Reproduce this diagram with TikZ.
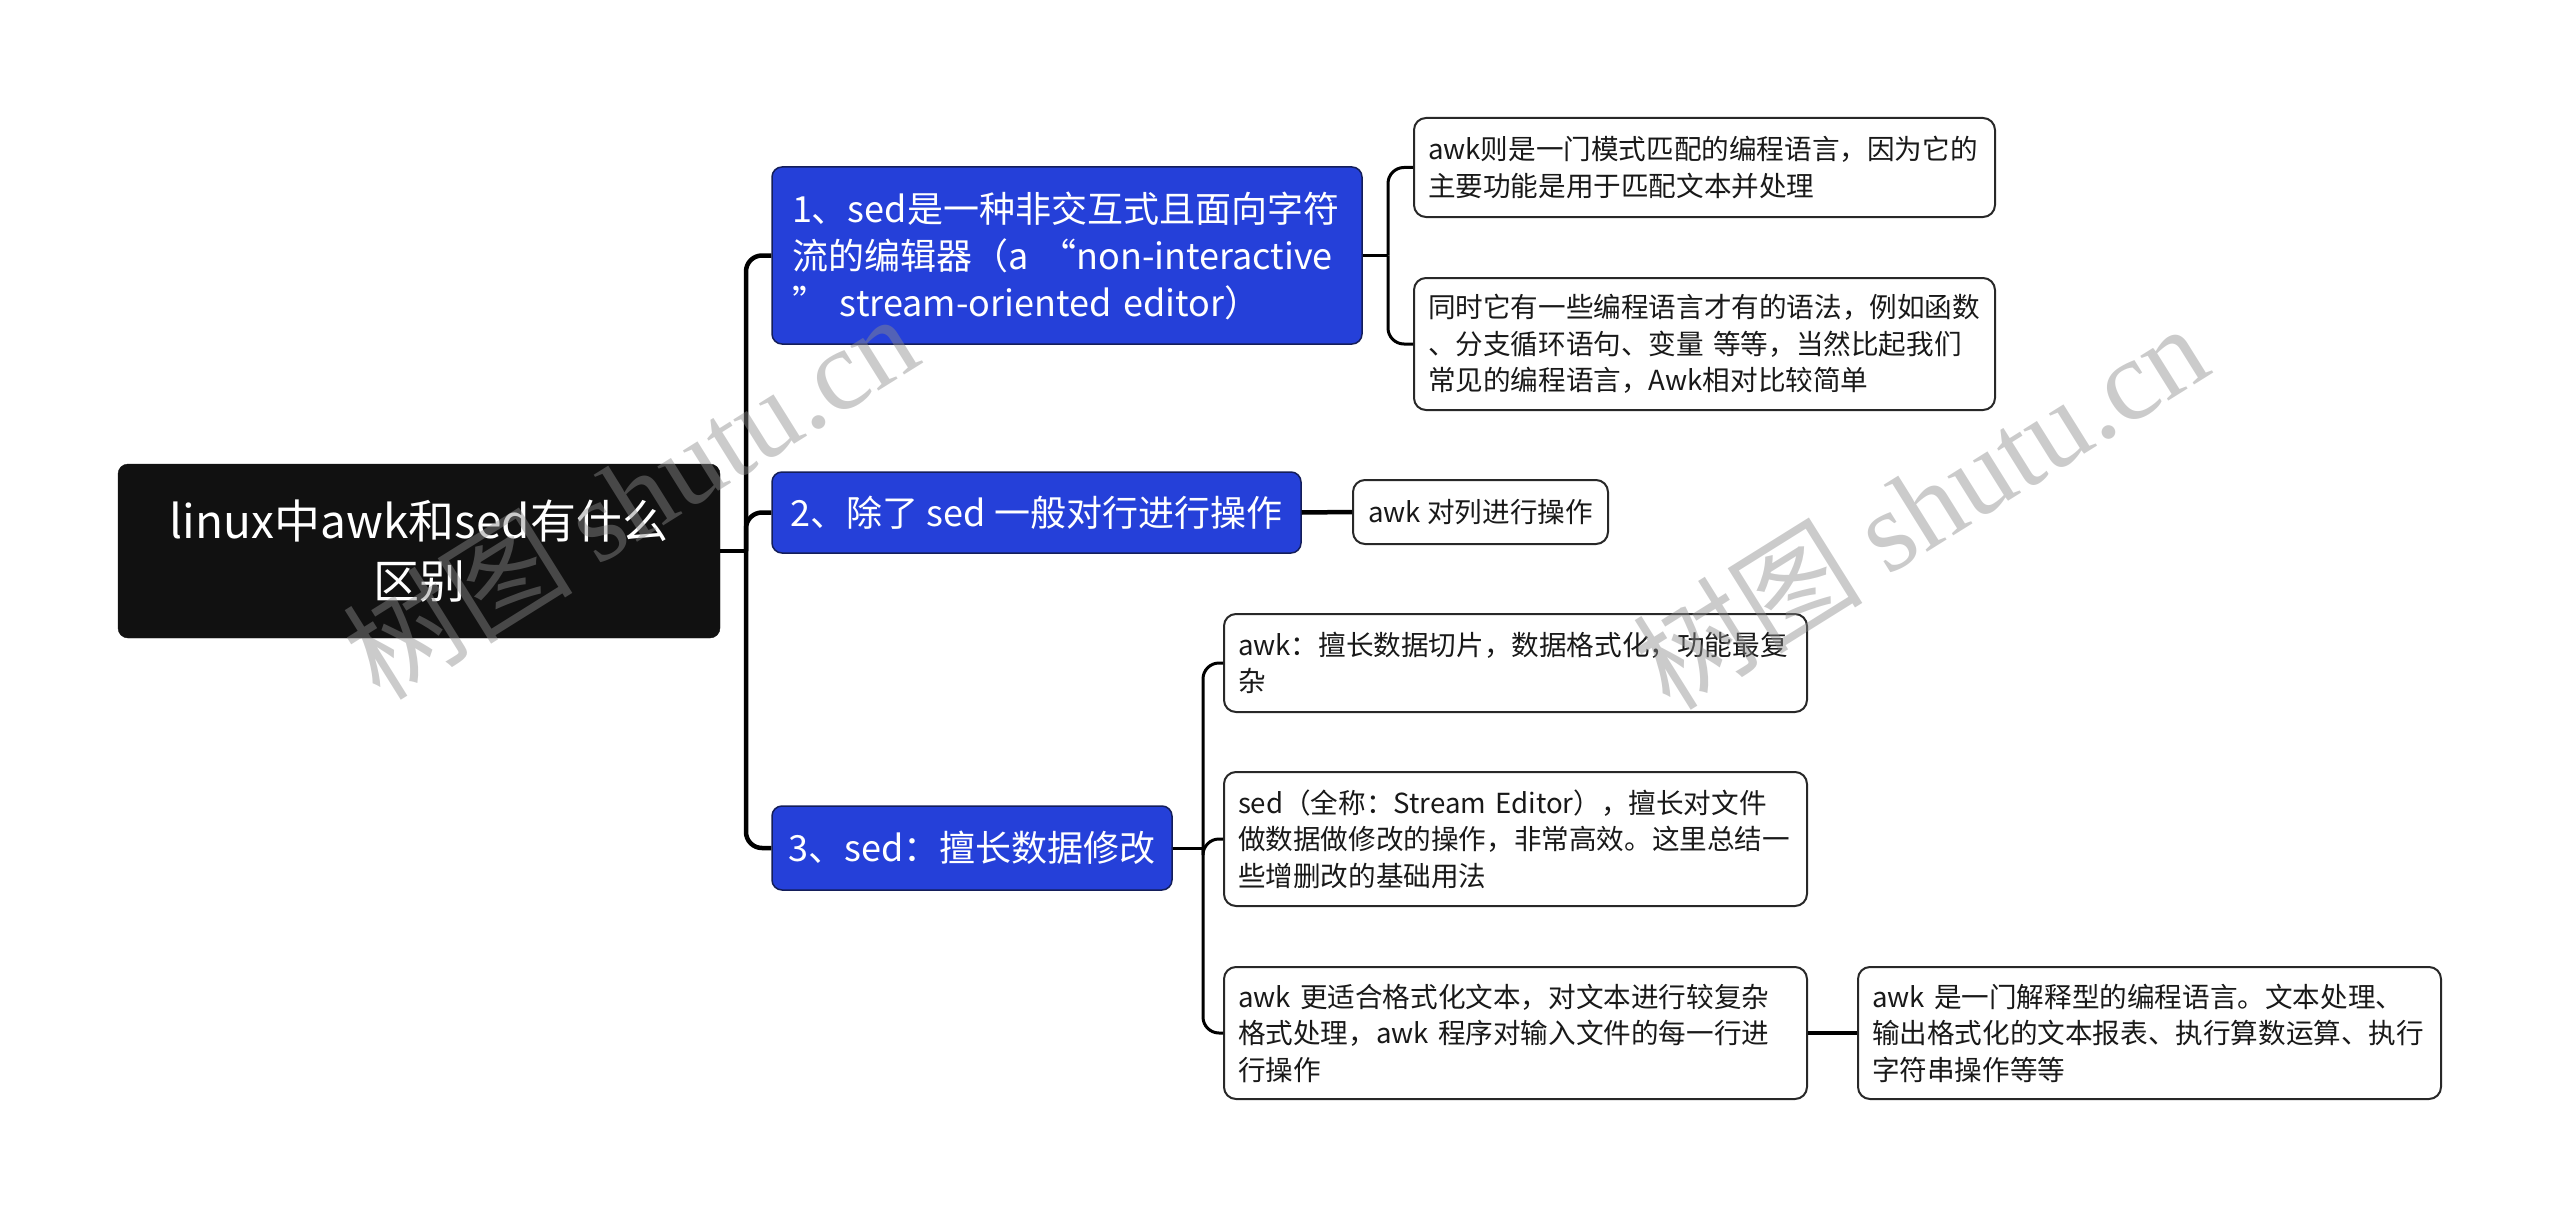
\documentclass[tikz,border=0pt]{standalone}
\usepackage{fontspec}
\setmainfont{Noto Sans CJK SC}
\newfontfamily\wmlatin{Liberation Serif}
\definecolor{rootfill}{RGB}{17,17,17}
\definecolor{bluefill}{RGB}{37,64,217}
\definecolor{blueedge}{RGB}{20,30,90}
\definecolor{leafedge}{RGB}{40,40,40}
\definecolor{textdark}{RGB}{25,25,25}
\definecolor{wmgray}{RGB}{140,140,140}
\begin{document}
\begin{tikzpicture}[x=1pt,y=-1pt,
  rootbox/.style={fill=rootfill, draw=rootfill, rounded corners=10pt, text=white,
    align=center, font=\fontsize{46}{60}\selectfont, minimum width=#1, inner sep=0pt},
  bluebox/.style={fill=bluefill, draw=blueedge, line width=1.5pt, rounded corners=10pt,
    text=white, align=left, font=\fontsize{36}{47}\selectfont, inner xsep=0pt, inner ysep=0pt},
  leafbox/.style={fill=white, draw=leafedge, line width=2pt, rounded corners=12pt,
    text=textdark, align=left, font=\fontsize{27.6}{36.5}\selectfont, inner xsep=0pt, inner ysep=0pt},
  mainconn/.style={draw=black, line width=4.5pt, rounded corners=16pt},
  subconn/.style={draw=black, line width=3pt, rounded corners=16pt},
  wm/.style={text=wmgray, opacity=0.45, rotate=32, font=\fontsize{115}{120}\selectfont}
]
\useasboundingbox (0,0) rectangle (2560,1220);

% root
\node[rootbox=602pt, minimum height=174pt, text width=580pt] (root) at (419,551)
  {linux中awk和sed有什么\\区别};

% level 1
\node[bluebox, minimum height=177pt, text width=550pt, minimum width=590pt] (n1) at (1067,255.5)
  {1、sed是一种非交互式且面向字符\\流的编辑器（a “non-interactive\\” stream-oriented editor）};
\node[bluebox, minimum height=81pt, minimum width=529pt] (n2) at (1036.5,512.5)
  {2、除了 sed 一般对行进行操作};
\node[bluebox, minimum height=84pt, minimum width=400pt] (n3) at (972,848)
  {3、sed：擅长数据修改};

% level 2
\node[leafbox, minimum height=99pt, text width=553pt, minimum width=581pt] (a1) at (1704.5,167.5)
  {awk则是一门模式匹配的编程语言，因为它的\\主要功能是用于匹配文本并处理};
\node[leafbox, minimum height=132pt, text width=553pt, minimum width=581pt] (a2) at (1704.5,344)
  {同时它有一些编程语言才有的语法，例如函数\\、分支循环语句、变量 等等，当然比起我们\\常见的编程语言，Awk相对比较简单};
\node[leafbox, minimum height=64pt, minimum width=255pt] (b1) at (1480.5,512)
  {awk 对列进行操作};
\node[leafbox, minimum height=98pt, text width=555pt, minimum width=583pt] (c1) at (1515.5,663)
  {awk：擅长数据切片，数据格式化，功能最复\\杂};
\node[leafbox, minimum height=134pt, text width=555pt, minimum width=583pt] (c2) at (1515.5,839)
  {sed（全称：Stream Editor），擅长对文件\\做数据做修改的操作，非常高效。这里总结一\\些增删改的基础用法};
\node[leafbox, minimum height=132pt, text width=555pt, minimum width=583pt] (c3) at (1515.5,1033)
  {awk 更适合格式化文本，对文本进行较复杂\\格式处理，awk 程序对输入文件的每一行进\\行操作};
\node[leafbox, minimum height=132pt, text width=555pt, minimum width=583pt] (d1) at (2149.5,1033)
  {awk 是一门解释型的编程语言。文本处理、\\输出格式化的文本报表、执行算数运算、执行\\字符串操作等等};

% junction coordinates
\coordinate (t0) at (746,551);
\coordinate (t1) at (1388,255.5);
\coordinate (t3) at (1203,848);

% connectors
\draw[mainconn] (root.east) -- (t0);
\draw[mainconn] (t0) |- (n1.west);
\draw[mainconn] (t0) |- (n2.west);
\draw[mainconn] (t0) |- (n3.west);
\draw[subconn] (n1.east) -- (t1);
\draw[subconn] (t1) |- (a1.west);
\draw[subconn] (t1) |- (a2.west);
\draw[mainconn] (n2.east) -- (b1.west);
\draw[subconn] (n3.east) -- (t3);
\draw[subconn] (t3) |- (c1.west);
\draw[subconn] (t3) |- (c2.west);
\draw[subconn] (t3) |- (c3.west);
\draw[mainconn] (c3.east) -- (d1.west);

% watermarks
\node[wm] (wm1) at (630,495) {树图 {\wmlatin shutu.cn}};
\node[wm] (wm2) at (1920,505) {树图 {\wmlatin shutu.cn}};
\end{tikzpicture}
\end{document}
